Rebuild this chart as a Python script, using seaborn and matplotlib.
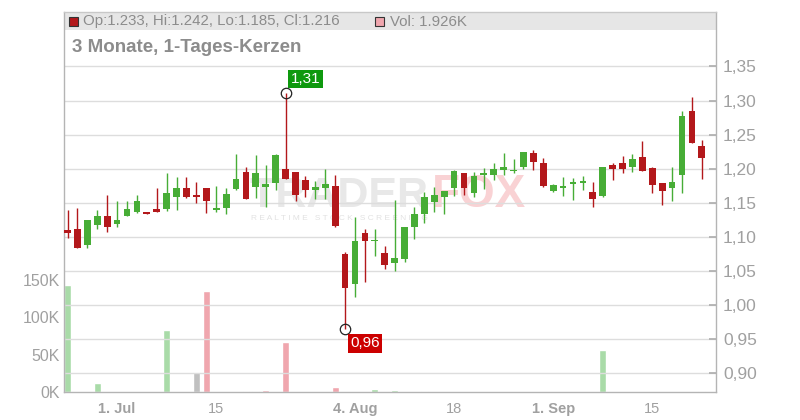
import matplotlib
matplotlib.use("Agg")
import numpy as np
import pandas as pd
import seaborn as sns
from matplotlib import pyplot as plt
from matplotlib.patches import Rectangle
from matplotlib.ticker import FuncFormatter

# daily candles, 24 Jun .. 22 Sep (trading days only)
opens = [1.110, 1.112, 1.088, 1.117, 1.131, 1.119, 1.130, 1.136, 1.137, 1.140,
         1.141, 1.158, 1.172, 1.161, 1.171, 1.139, 1.142, 1.170, 1.195, 1.173,
         1.173, 1.179, 1.200, 1.195, 1.184, 1.169, 1.172, 1.174, 1.075, 1.030,
         1.106, 1.093, 1.076, 1.062, 1.068, 1.114, 1.133, 1.151, 1.158, 1.171,
         1.193, 1.164, 1.190, 1.190, 1.198, 1.196, 1.202, 1.223, 1.209, 1.167,
         1.172, 1.178, 1.179, 1.165, 1.160, 1.206, 1.208, 1.202, 1.217, 1.201,
         1.179, 1.172, 1.191, 1.284, 1.233]
highs = [1.139, 1.142, 1.124, 1.139, 1.161, 1.152, 1.153, 1.162, 1.137, 1.172,
         1.194, 1.187, 1.187, 1.181, 1.172, 1.175, 1.171, 1.221, 1.203, 1.220,
         1.206, 1.221, 1.311, 1.195, 1.189, 1.182, 1.199, 1.190, 1.077, 1.129,
         1.111, 1.112, 1.086, 1.154, 1.115, 1.143, 1.165, 1.173, 1.167, 1.198,
         1.193, 1.195, 1.201, 1.209, 1.223, 1.214, 1.225, 1.228, 1.215, 1.178,
         1.187, 1.186, 1.189, 1.180, 1.203, 1.209, 1.218, 1.222, 1.240, 1.202,
         1.179, 1.203, 1.285, 1.305, 1.242]
lows = [1.098, 1.084, 1.084, 1.111, 1.107, 1.114, 1.130, 1.135, 1.133, 1.136,
        1.138, 1.139, 1.157, 1.149, 1.135, 1.136, 1.134, 1.168, 1.156, 1.157,
        1.144, 1.168, 1.185, 1.153, 1.159, 1.155, 1.155, 1.115, 0.964, 1.011,
        1.034, 1.071, 1.052, 1.050, 1.063, 1.096, 1.120, 1.136, 1.133, 1.160,
        1.161, 1.158, 1.170, 1.183, 1.190, 1.194, 1.199, 1.198, 1.173, 1.165,
        1.160, 1.154, 1.168, 1.144, 1.158, 1.183, 1.194, 1.195, 1.197, 1.164,
        1.147, 1.153, 1.164, 1.238, 1.185]
closes = [1.106, 1.084, 1.124, 1.131, 1.114, 1.124, 1.140, 1.153, 1.133, 1.137,
          1.164, 1.172, 1.158, 1.158, 1.152, 1.142, 1.163, 1.185, 1.156, 1.193,
          1.178, 1.220, 1.185, 1.162, 1.169, 1.173, 1.177, 1.116, 1.024, 1.094,
          1.093, 1.094, 1.059, 1.069, 1.115, 1.134, 1.158, 1.162, 1.167, 1.196,
          1.171, 1.189, 1.194, 1.199, 1.202, 1.198, 1.225, 1.210, 1.174, 1.176,
          1.173, 1.180, 1.181, 1.156, 1.203, 1.200, 1.200, 1.214, 1.197, 1.176,
          1.167, 1.180, 1.277, 1.238, 1.216]
# volume in K, zero where nothing traded
volumes = [143, 0, 0, 12, 0, 0, 0, 0, 0, 0,
           83, 0, 0, 27, 135, 0, 0, 0, 1.5, 1.5,
           3, 0, 67, 0, 0, 0, 0, 6.7, 0, 0,
           0, 4, 0, 2.7, 0, 0, 1, 0, 0, 0,
           0, 0, 0, 0, 0, 0, 0, 0, 0, 0,
           0, 0, 0, 0, 56, 0, 0, 0, 0, 0,
           0, 0, 0, 0, 1.926]

date_ticks = [5, 15, 29, 39, 49, 59]
date_labels = ["1. Jul", "15", "4. Aug", "18", "1. Sep", "15"]
price_ticks = [0.90, 0.95, 1.00, 1.05, 1.10, 1.15, 1.20, 1.25, 1.30, 1.35]
vol_ticks = [0, 50, 100, 150]

UP = "#47ad36"
DOWN = "#b3181b"

df = pd.DataFrame({"o": opens, "h": highs, "l": lows, "c": closes, "v": volumes})
df["idx"] = np.arange(len(df))
chg = df["c"].diff().fillna(1)
df["vdir"] = np.where(chg > 0, "up", np.where(chg < 0, "down", "flat"))

sns.set_theme(style="white")
plt.rcParams["font.family"] = ["Liberation Sans", "DejaVu Sans"]

W, H = 800, 420
x0, x1, y0, y1 = 64, 716, 12, 392
fig = plt.figure(figsize=(W / 100, H / 100), dpi=100)
axv = fig.add_axes([x0 / W, 1 - y1 / H, (x1 - x0) / W, (y1 - y0) / H])
ax = axv.twinx()

# header band
axv.add_patch(Rectangle((0, 1 - 18 / 380), 1, 18 / 380, transform=axv.transAxes,
                        facecolor="#e6e6e6", edgecolor="none", zorder=0))

# watermark
def ax_frac(px, py):
    return (px - x0) / (x1 - x0), (y1 - py) / (y1 - y0)

axv.text(*ax_frac(250, 207), "TRADER", transform=axv.transAxes, fontsize=31,
         fontweight="bold", color="#e8e8e8", va="baseline", zorder=0.5)
axv.text(*ax_frac(432, 207), "FOX", transform=axv.transAxes, fontsize=33,
         fontweight="bold", color="#f9d2d4", va="baseline", zorder=0.5)
axv.text(*ax_frac(251, 218), "R E A L T I M E   S T O C K   S C R E E N I N G",
         transform=axv.transAxes, fontsize=6, color="#e2e2e2", va="center", zorder=0.5)

# volume bars
vdf = df[df["v"] > 0]
sns.barplot(data=vdf, x="idx", y="v", hue="vdir", native_scale=True, width=0.68,
            palette={"up": "#a9dba8", "down": "#f0a6ae", "flat": "#c0c0c0"},
            saturation=1, errorbar=None, legend=False, ax=axv, zorder=1)
axv.set_ylim(0, 509)
axv.set_yticks(vol_ticks)
axv.set_yticklabels([f"{v}K" for v in vol_ticks])
axv.yaxis.tick_left()
axv.set_xlabel("")
axv.set_ylabel("")
axv.tick_params(axis="y", length=0, pad=3, labelsize=11.5, labelcolor="#a0a0a0")
for s in axv.spines.values():
    s.set_visible(False)

# candles
colors = np.where(df["c"] >= df["o"], UP, DOWN)
ax.vlines(df["idx"], df["l"], df["h"], colors=colors, lw=1.0, zorder=3)
body = np.maximum((df["c"] - df["o"]).abs(), 0.0022)
ax.bar(df["idx"], body, bottom=np.minimum(df["o"], df["c"]), width=0.68,
       color=colors, linewidth=0, zorder=4)

# high / low markers
hi_i = int(df["h"].idxmax())
lo_i = int(df["l"].idxmin())
for i, val, col, dy in [(hi_i, df["h"][hi_i], "#0e990e", 14), (lo_i, df["l"][lo_i], "#cc0000", -14)]:
    ax.plot(i, val, "o", mfc="none", mec="#222222", ms=7.5, mew=0.9, zorder=6)
    ax.annotate(f"{val:.2f}".replace(".", ","), xy=(i, val), xytext=(5, dy),
                textcoords="offset pixels", ha="left", va="center", fontsize=11,
                color="white", zorder=7,
                bbox=dict(boxstyle="square,pad=0.15", fc=col, ec="none"))

ax.set_xlim(-0.36, 65.43)
ax.set_ylim(0.872, 1.430)
ax.set_yticks(price_ticks)
ax.yaxis.set_major_formatter(FuncFormatter(lambda v, p: f"{v:.2f}".replace(".", ",")))
ax.tick_params(axis="y", direction="in", length=5, color="#b0b0b0", pad=5,
               labelsize=12.5, labelcolor="#a0a0a0")
ax.set_xticks(date_ticks)
ax.set_xticklabels(date_labels)
ax.tick_params(axis="x", length=0, pad=7, labelsize=10.5, labelcolor="#a0a0a0")
axv.tick_params(axis="x", length=0, pad=7, labelsize=10.5, labelcolor="#a0a0a0")
for lab in axv.get_xticklabels():
    if "." in lab.get_text():
        lab.set_fontweight("bold")
ax.grid(True, color="#dddddd", lw=1.0)
ax.set_axisbelow(True)
for name, s in ax.spines.items():
    s.set_color("#c8c8c8" if name == "top" else "#b4b4b4")
    s.set_linewidth(1.0)

# header texts
def fig_frac(px, py):
    return px / W, 1 - py / H

last = df.iloc[-1]
fig.add_artist(Rectangle(fig_frac(68.5, 26), 9 / W, 9 / H, transform=fig.transFigure,
                         facecolor=DOWN, edgecolor="#333333", lw=0.8))
fig.text(*fig_frac(83, 21.5),
         f"Op:{last['o']:.3f}, Hi:{last['h']:.3f}, Lo:{last['l']:.3f}, Cl:{last['c']:.3f}",
         fontsize=10.8, color="#8c8c8c", va="center")
fig.add_artist(Rectangle(fig_frac(375, 26), 9 / W, 9 / H, transform=fig.transFigure,
                         facecolor="#f0a6ae", edgecolor="#333333", lw=0.8))
fig.text(*fig_frac(390, 21.5), f"Vol: {last['v']:.3f}K", fontsize=10.8,
         color="#8c8c8c", va="center")
fig.text(*fig_frac(72, 47.5), "3 Monate, 1-Tages-Kerzen", fontsize=13.5,
         fontweight="bold", color="#8c8c8c", va="center")

fig.savefig("out.png", dpi=100, facecolor="white")
